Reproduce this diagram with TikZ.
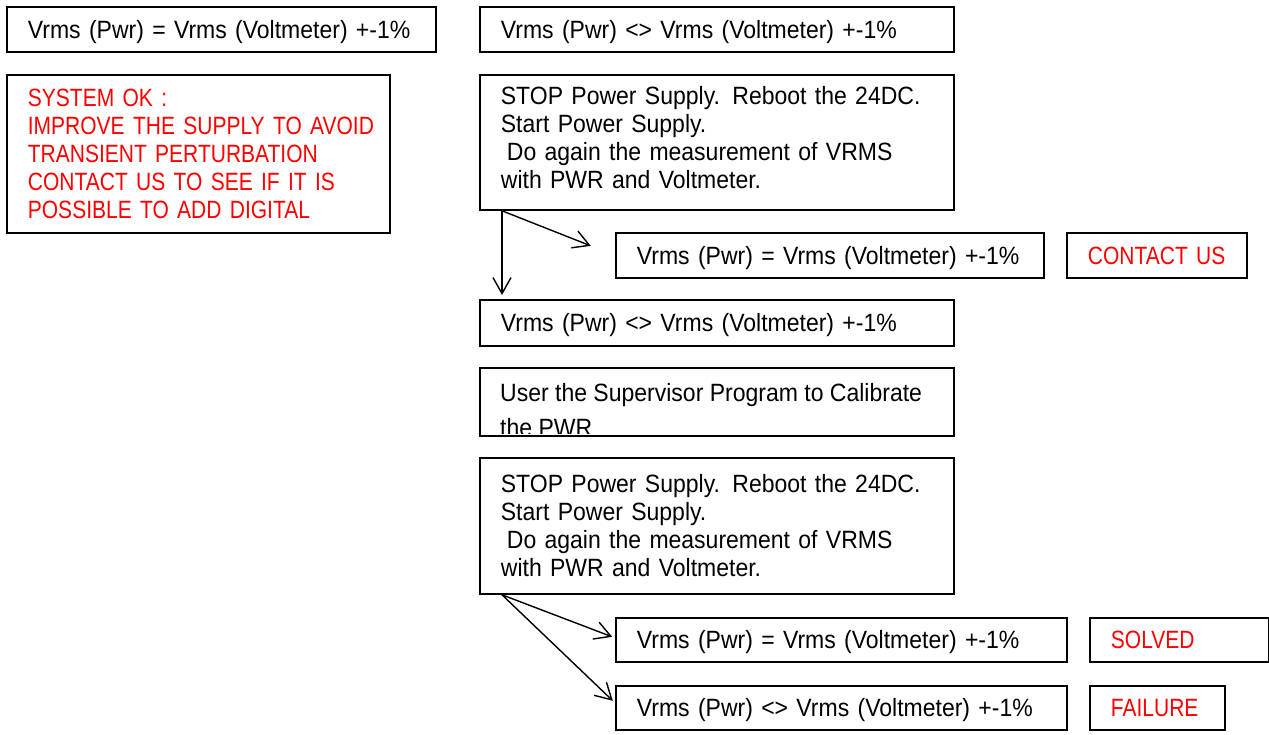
\documentclass[tikz,border=0pt]{standalone}
\usepackage{fontspec}
\setmainfont{Liberation Sans}
\newfontfamily\blkfont[FakeStretch=0.92]{Liberation Sans}
\newfontfamily\redfont[FakeStretch=0.84]{Liberation Sans}
\usetikzlibrary{arrows.meta}
\definecolor{alertred}{RGB}{255,0,0}
\tikzset{
  box/.style={draw=black, line width=1.8pt, inner xsep=21pt, inner ysep=0pt,
    align=left, anchor=north west, font=\blkfont\fontsize{25}{28}\selectfont},
  oneline/.style={text depth=0pt},
  redtext/.style={text=alertred, font=\redfont\fontsize{25}{28}\selectfont},
  flow/.style={line width=1.4pt, -{Straight Barb[length=16pt,width=18pt]}}
}
\begin{document}
\begin{tikzpicture}[x=1pt,y=-1pt]
\useasboundingbox (0,0) rectangle (1269,734);
% left column
\node[box, oneline, minimum width=429pt, minimum height=45pt, text width=387pt] (A) at (6,6)
  {Vrms (Pwr) = Vrms (Voltmeter) +-1\%};
\node[box, redtext, minimum width=383pt, minimum height=158pt, text width=341pt] (B) at (6,74)
  {SYSTEM OK :\\\mbox{IMPROVE THE SUPPLY TO AVOID}\\\mbox{TRANSIENT PERTURBATION}\\\mbox{CONTACT US TO SEE IF IT IS}\\\mbox{POSSIBLE TO ADD DIGITAL}};
% middle column
\node[box, oneline, minimum width=474pt, minimum height=45pt, text width=432pt] (C) at (479,6)
  {Vrms (Pwr) <> Vrms (Voltmeter) +-1\%};
\node[box, text depth=93pt, minimum width=474pt, minimum height=135pt, text width=432pt] (D) at (479,74)
  {STOP Power Supply. Reboot the 24DC.\\Start Power Supply.\\\hspace*{6pt}Do again the measurement of VRMS\\with PWR and Voltmeter.};
\node[box, oneline, minimum width=428pt, minimum height=45pt, text width=386pt] (E) at (615,232)
  {Vrms (Pwr) = Vrms (Voltmeter) +-1\%};
\node[box, oneline, redtext, minimum width=180pt, minimum height=45pt, text width=138pt] (F) at (1066,232)
  {CONTACT US};
\node[box, oneline, minimum width=474pt, minimum height=46pt, text width=432pt] (G) at (479,299)
  {Vrms (Pwr) <> Vrms (Voltmeter) +-1\%};
\node[box, minimum width=474pt, minimum height=68pt, text width=432pt] (H) at (479,367) {};
\begin{scope}
  \clip (480,368) rectangle (952,433);
  \node[anchor=base west, inner sep=0pt, align=left, font=\blkfont\fontsize{25}{28}\selectfont] (Htext) at (500,436)
    {User the Supervisor Program to Calibrate\\[7pt]the PWR};
\end{scope}
\node[box, text depth=85pt, minimum width=474pt, minimum height=136pt, text width=432pt] (I) at (479,457)
  {STOP Power Supply. Reboot the 24DC.\\Start Power Supply.\\\hspace*{6pt}Do again the measurement of VRMS\\with PWR and Voltmeter.};
\node[box, oneline, minimum width=451pt, minimum height=44pt, text width=409pt] (J) at (615,617)
  {Vrms (Pwr) = Vrms (Voltmeter) +-1\%};
\node[box, oneline, redtext, minimum width=179pt, minimum height=44pt, text width=137pt] (K) at (1089,617)
  {SOLVED};
\node[box, oneline, minimum width=451pt, minimum height=44pt, text width=409pt] (L) at (615,685)
  {Vrms (Pwr) <> Vrms (Voltmeter) +-1\%};
\node[box, oneline, redtext, minimum width=135pt, minimum height=44pt, text width=93pt] (M) at (1089,685)
  {FAILURE};
% connectors
\draw[flow, shorten >=26pt] ([xshift=23pt]D.south west) -- (E.west);
\draw[flow, shorten >=4pt] ([xshift=23pt]D.south west) -- ([xshift=23pt]G.north west);
\draw[flow, shorten >=3pt] ([xshift=23pt]I.south west) -- ([yshift=2pt]J.west);
\draw[flow, shorten >=3pt] ([xshift=23pt]I.south west) -- ([yshift=5pt]L.west);
\end{tikzpicture}
\end{document}
